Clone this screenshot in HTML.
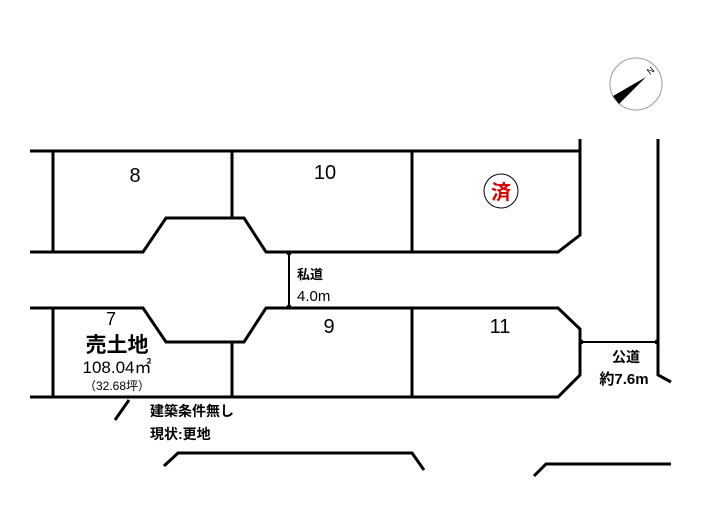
<!DOCTYPE html>
<html><head><meta charset="utf-8"><style>
body{margin:0;background:#fff}
svg{display:block}
text{font-family:"Liberation Sans","Noto Sans CJK JP",sans-serif;fill:#000}
.b{font-weight:bold}
</style></head><body>
<svg width="705" height="525" viewBox="0 0 705 525">
<g stroke="#000" stroke-width="3" fill="none" stroke-linejoin="miter">
<polyline points="30,151 580,151"/>
<line x1="53" y1="151" x2="53" y2="252"/>
<line x1="232" y1="151" x2="232" y2="218"/>
<line x1="412" y1="151" x2="412" y2="252"/>
<polyline points="30,252 143,252 166,218 244,218 266,252 558,252 580,235 580,139"/>
<polyline points="658,139 658,375 671,382"/>
<polyline points="30,308 143,308 166,342 244,342 266,308 558,308 580,329 580,375 558,397 30,397"/>
<line x1="53" y1="308" x2="53" y2="397"/>
<line x1="232" y1="342" x2="232" y2="397"/>
<line x1="412" y1="308" x2="412" y2="397"/>
<line x1="115" y1="420" x2="129" y2="400"/>
<polyline points="164,466 178,453 412,453 424,470"/>
<polyline points="534,476 546,464 671,464"/>
</g>
<g stroke="#000" stroke-width="2">
<line x1="289" y1="252" x2="289" y2="308"/>
<line x1="580" y1="342" x2="658" y2="342"/>
</g>
<g fill="#000"><circle cx="289" cy="253" r="2.5"/><circle cx="289" cy="307" r="2.5"/><circle cx="581" cy="342" r="2.5"/><circle cx="657" cy="342" r="2.5"/></g>
<circle cx="636" cy="84" r="26" fill="none" stroke="#999" stroke-width="1"/>
<polygon points="613,96 646,77 619,104" fill="#000"/>
<text x="650" y="75" font-size="9" transform="rotate(-40 650 75)">N</text>
<circle cx="501" cy="191" r="17" fill="none" stroke="#000" stroke-width="1"/>
<text x="501" y="199" font-size="20" text-anchor="middle" class="b" style="fill:#d00">済</text>
<text x="135" y="182" font-size="20" text-anchor="middle">8</text>
<text x="325" y="179" font-size="20" text-anchor="middle">10</text>
<text x="329" y="333" font-size="20" text-anchor="middle">9</text>
<text x="500" y="333" font-size="20" text-anchor="middle">11</text>
<text x="111" y="325" font-size="18" text-anchor="middle">7</text>
<text x="117" y="352" font-size="21" text-anchor="middle" class="b">売土地</text>
<text x="117" y="373" font-size="17" text-anchor="middle">108.04㎡</text>
<text x="117" y="390" font-size="12" text-anchor="middle">（32.68坪）</text>
<text x="150" y="416" font-size="14" class="b">建築条件無し</text>
<text x="150" y="439" font-size="14" class="b">現状:更地</text>
<text x="297" y="279" font-size="13" class="b">私道</text>
<text x="297" y="301" font-size="15">4.0m</text>
<text x="626" y="362" font-size="14" text-anchor="middle" class="b">公道</text>
<text x="624" y="384" font-size="15" text-anchor="middle" class="b">約7.6m</text>
</svg>
</body></html>
